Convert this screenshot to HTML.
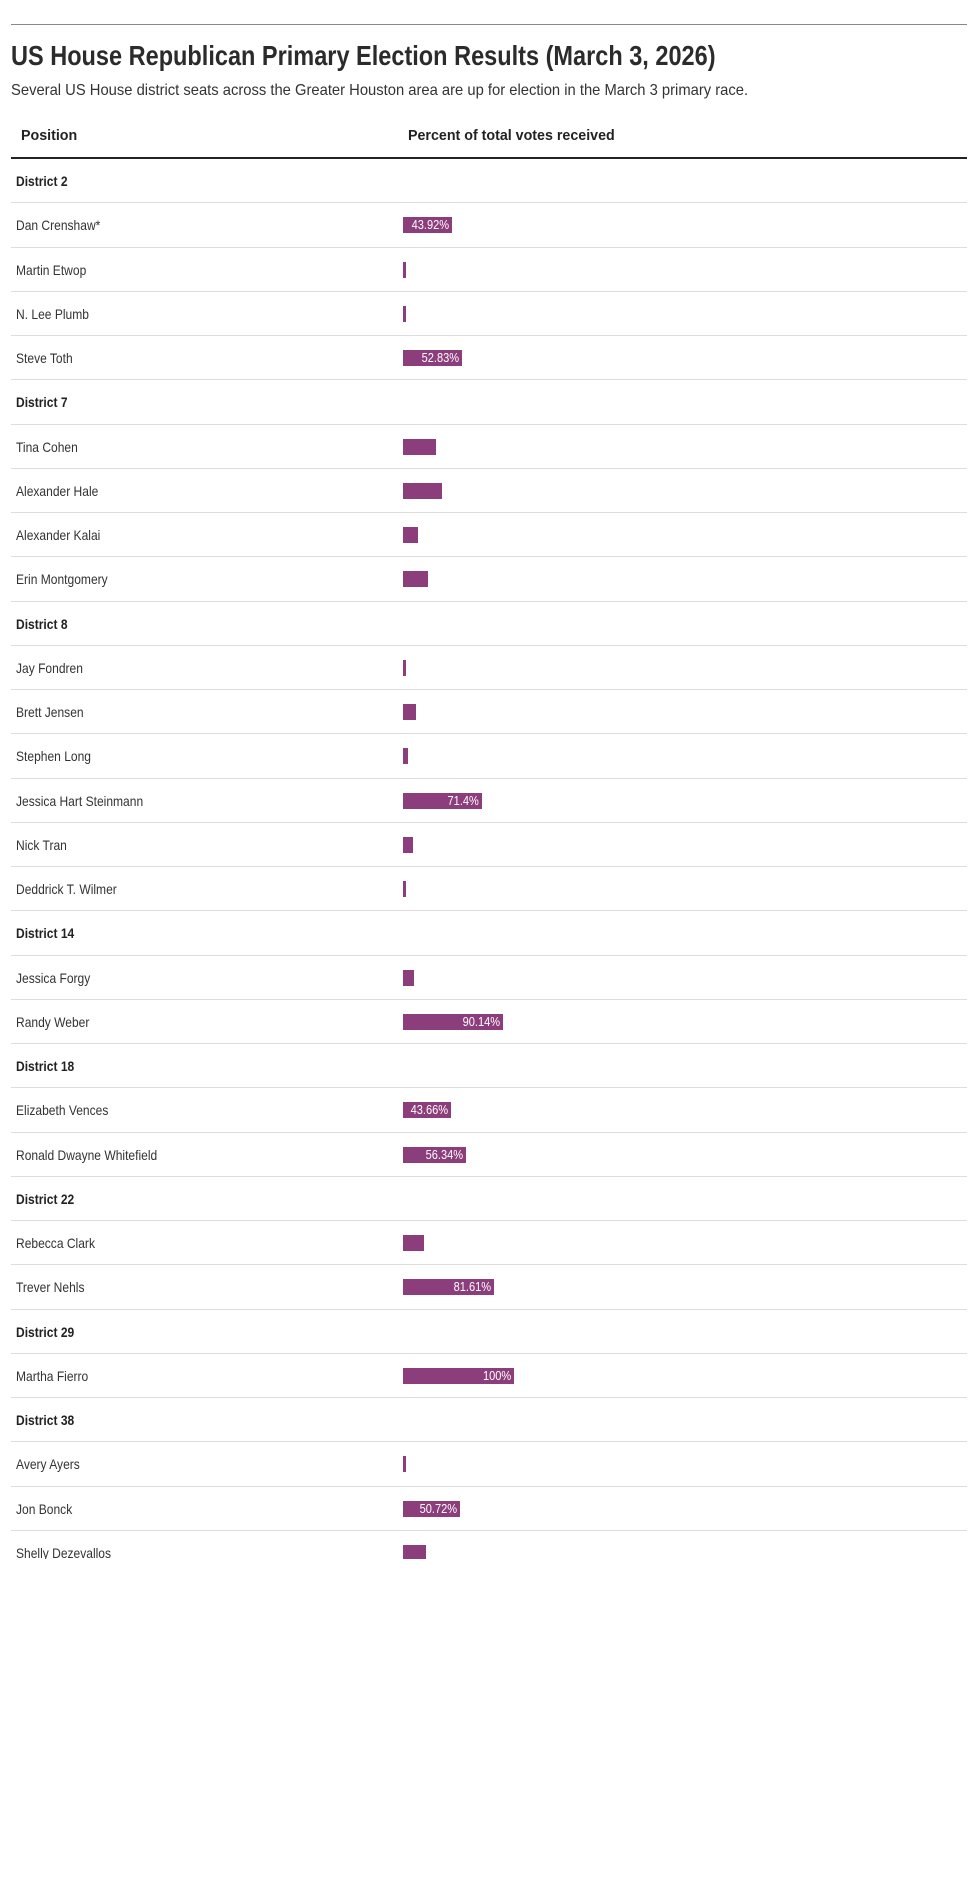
<!DOCTYPE html>
<html><head><meta charset="utf-8"><style>
body{margin:0;background:#fff;width:980px;height:1879px;overflow:hidden;font-family:"Liberation Sans",sans-serif;color:#333}
.top{position:absolute;left:11px;top:24px;width:956px;height:1px;background:#888}
.sx{display:inline-block;transform-origin:0 50%;white-space:nowrap}
h1{position:absolute;left:11px;top:40px;margin:0;font-size:28px;font-weight:bold;color:#2b2b2b;white-space:nowrap}
h1 .sx{transform:scaleX(0.84)}
.sub{position:absolute;left:11px;top:82px;font-size:16px;color:#333;white-space:nowrap}
.sub .sx{transform:scaleX(0.923)}
.hd{position:absolute;top:127px;font-size:15px;font-weight:bold;color:#222}
.hd .sx{transform:scaleX(0.95)}
.thick{position:absolute;left:11px;top:157px;width:956px;height:2px;background:#222}
.tbl{position:absolute;left:11px;top:159px;width:956px;height:1400px;overflow:hidden}
.r{height:43.26px;border-bottom:1px solid #ddd;position:relative;font-size:14px}
.r .n{position:absolute;left:5px;top:14px;white-space:nowrap;transform:scaleX(0.86);transform-origin:0 50%}
.r.d .n{font-weight:bold;color:#222}
.b{position:absolute;left:392px;top:14px;height:16px;background:#8c3d7b;color:#fff;font-size:13px;line-height:16px;text-align:right;box-sizing:border-box;padding-right:3px;white-space:nowrap;overflow:hidden}
.b span{display:inline-block;transform:scaleX(0.85);transform-origin:100% 50%}
</style></head><body>
<div class="top"></div>
<h1><span class="sx">US House Republican Primary Election Results (March 3, 2026)</span></h1>
<div class="sub"><span class="sx">Several US House district seats across the Greater Houston area are up for election in the March 3 primary race.</span></div>
<div class="hd" style="left:21px"><span class="sx">Position</span></div>
<div class="hd" style="left:408px"><span class="sx">Percent of total votes received</span></div>
<div class="thick"></div>
<div class="tbl">
<div class="r d"><span class="n">District 2</span></div>
<div class="r"><span class="n">Dan Crenshaw*</span><div class="b" style="width:49px"><span>43.92%</span></div></div>
<div class="r"><span class="n">Martin Etwop</span><div class="b" style="width:2px"></div></div>
<div class="r"><span class="n">N. Lee Plumb</span><div class="b" style="width:2px"></div></div>
<div class="r"><span class="n">Steve Toth</span><div class="b" style="width:59px"><span>52.83%</span></div></div>
<div class="r d"><span class="n">District 7</span></div>
<div class="r"><span class="n">Tina Cohen</span><div class="b" style="width:33px"></div></div>
<div class="r"><span class="n">Alexander Hale</span><div class="b" style="width:39px"></div></div>
<div class="r"><span class="n">Alexander Kalai</span><div class="b" style="width:15px"></div></div>
<div class="r"><span class="n">Erin Montgomery</span><div class="b" style="width:25px"></div></div>
<div class="r d"><span class="n">District 8</span></div>
<div class="r"><span class="n">Jay Fondren</span><div class="b" style="width:3px"></div></div>
<div class="r"><span class="n">Brett Jensen</span><div class="b" style="width:13px"></div></div>
<div class="r"><span class="n">Stephen Long</span><div class="b" style="width:5px"></div></div>
<div class="r"><span class="n">Jessica Hart Steinmann</span><div class="b" style="width:79px"><span>71.4%</span></div></div>
<div class="r"><span class="n">Nick Tran</span><div class="b" style="width:10px"></div></div>
<div class="r"><span class="n">Deddrick T. Wilmer</span><div class="b" style="width:3px"></div></div>
<div class="r d"><span class="n">District 14</span></div>
<div class="r"><span class="n">Jessica Forgy</span><div class="b" style="width:11px"></div></div>
<div class="r"><span class="n">Randy Weber</span><div class="b" style="width:100px"><span>90.14%</span></div></div>
<div class="r d"><span class="n">District 18</span></div>
<div class="r"><span class="n">Elizabeth Vences</span><div class="b" style="width:48px"><span>43.66%</span></div></div>
<div class="r"><span class="n">Ronald Dwayne Whitefield</span><div class="b" style="width:63px"><span>56.34%</span></div></div>
<div class="r d"><span class="n">District 22</span></div>
<div class="r"><span class="n">Rebecca Clark</span><div class="b" style="width:21px"></div></div>
<div class="r"><span class="n">Trever Nehls</span><div class="b" style="width:91px"><span>81.61%</span></div></div>
<div class="r d"><span class="n">District 29</span></div>
<div class="r"><span class="n">Martha Fierro</span><div class="b" style="width:111px"><span>100%</span></div></div>
<div class="r d"><span class="n">District 38</span></div>
<div class="r"><span class="n">Avery Ayers</span><div class="b" style="width:2px"></div></div>
<div class="r"><span class="n">Jon Bonck</span><div class="b" style="width:57px"><span>50.72%</span></div></div>
<div class="r"><span class="n">Shelly Dezevallos</span><div class="b" style="width:23px"></div></div>
</div>
</body></html>
